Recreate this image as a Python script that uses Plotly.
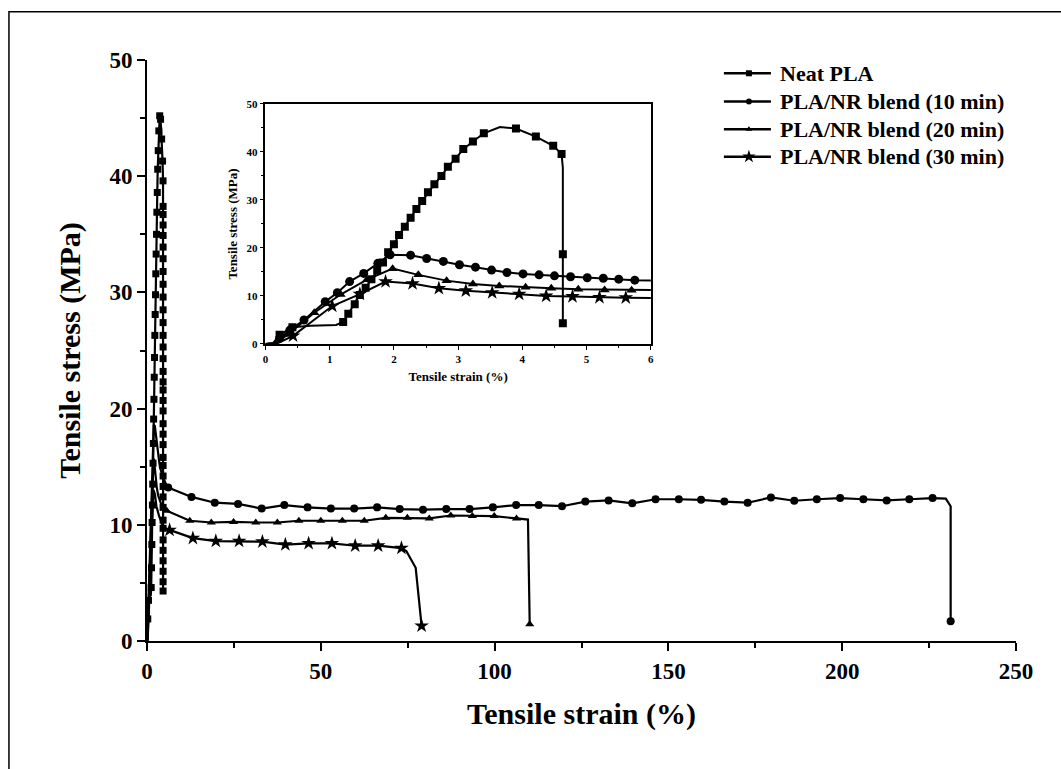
import plotly.graph_objects as go

# ---------------- data ----------------
series_names = ["Neat PLA", "PLA/NR blend (10 min)", "PLA/NR blend (20 min)", "PLA/NR blend (30 min)"]

# Neat PLA
pla_start_strain = [0.0, 0.12]
pla_start_stress = [0.0, 0.2]
pla_toe_strain = [0.22, 0.42]
pla_toe_stress = [1.9, 3.5]
pla_flat_strain = [0.70, 1.10]
pla_flat_stress = [3.8, 3.95]
pla_rise_strain = [1.21, 1.29, 1.39, 1.47, 1.56, 1.65, 1.74, 1.83, 1.91, 2.00, 2.08, 2.17,
                   2.26, 2.35, 2.44, 2.53, 2.63, 2.74, 2.84, 2.96, 3.08, 3.23, 3.40]
pla_rise_stress = [4.6, 6.3, 8.3, 10.2, 11.7, 13.5, 15.3, 17.0, 19.1, 20.8, 22.7, 24.4,
                   26.3, 28.1, 29.8, 31.6, 33.3, 35.0, 36.9, 38.6, 40.6, 42.2, 43.9]
pla_peak_strain = [3.65]
pla_peak_stress = [45.2]
pla_fall_strain = [3.90, 4.21, 4.48, 4.61]
pla_fall_stress = [44.9, 43.2, 41.3, 39.6]
pla_break_strain = 4.63
pla_drop_stress = [37.4, 36.7, 35.8, 34.9, 33.9, 32.9, 31.8, 30.7, 29.6, 28.5, 27.4, 26.3,
                   25.3, 24.3, 23.2, 22.3, 21.6, 20.7, 19.8, 18.7, 17.8, 16.9, 15.8, 15.1,
                   14.2, 13.3, 12.4, 11.5, 10.4, 9.7, 8.7, 7.8, 6.9, 6.0, 5.1, 4.3]
pla_inset_drop_marks = [18.7, 4.3]

# PLA/NR blend (10 min)
b10_start_strain = [0.0, 0.12]
b10_start_stress = [0.0, 0.1]
b10_inset_strain = [0.22, 0.38, 0.60, 0.93, 1.12, 1.31, 1.53, 1.75, 1.94, 2.26, 2.51, 2.77,
                    3.02, 3.27, 3.52, 3.76, 4.01, 4.26, 4.50, 4.75, 5.01, 5.26, 5.50, 5.75]
b10_inset_stress = [1.2, 2.9, 5.0, 8.8, 10.7, 13.0, 14.7, 16.8, 18.6, 18.5, 17.8, 17.2,
                    16.5, 16.0, 15.4, 14.9, 14.6, 14.4, 14.2, 14.0, 13.8, 13.7, 13.5, 13.3]
b10_plateau_strain = [6.1, 12.8, 19.5, 26.2, 33.0, 39.5, 46.2, 52.9, 59.6, 66.2, 72.7, 79.4,
                      86.1, 92.8, 99.5, 106.2, 112.7, 119.4, 126.1, 132.8, 139.6, 146.3, 153.0,
                      159.4, 166.1, 172.8, 179.5, 186.2, 192.7, 199.4, 206.1, 212.8, 219.3, 226.0]
b10_plateau_stress = [13.2, 12.4, 11.9, 11.8, 11.4, 11.7, 11.5, 11.4, 11.4, 11.5, 11.35, 11.3,
                      11.35, 11.35, 11.5, 11.7, 11.7, 11.6, 12.0, 12.1, 11.85, 12.2, 12.2,
                      12.15, 12.0, 11.9, 12.35, 12.07, 12.2, 12.3, 12.2, 12.1, 12.2, 12.3]
b10_tail_strain = [229.8, 231.2]
b10_tail_stress = [12.25, 11.6]
b10_break_strain = [231.2]
b10_break_stress = [1.7]

# PLA/NR blend (20 min)
b20_start_strain = [0.0, 0.15]
b20_start_stress = [0.0, 0.1]
b20_inset_strain = [0.35, 0.76, 1.17, 1.58, 1.98, 2.38, 2.82, 3.23, 3.64, 4.05, 4.45, 4.87, 5.28]
b20_inset_stress = [2.0, 6.5, 10.3, 13.4, 15.7, 14.4, 13.2, 12.5, 12.1, 11.8, 11.6, 11.4, 11.25]
b20_plateau_strain = [5.7, 12.3, 18.5, 24.9, 31.3, 37.5, 43.7, 50.0, 56.2, 62.5, 68.7, 74.9,
                      81.2, 87.4, 93.6, 99.9, 106.3]
b20_plateau_stress = [11.2, 10.35, 10.2, 10.25, 10.2, 10.2, 10.35, 10.35, 10.35, 10.35, 10.6, 10.6,
                      10.55, 10.8, 10.75, 10.75, 10.55]
b20_tail_strain = [109.6]
b20_tail_stress = [10.45]
b20_break_strain = [110.1]
b20_break_stress = [1.45]

# PLA/NR blend (30 min)
b30_start_strain = [0.0, 0.18]
b30_start_stress = [0.0, 0.1]
b30_inset_strain = [0.43, 1.04, 1.47, 1.87, 2.29, 2.70, 3.12, 3.53, 3.95, 4.37, 4.78, 5.20, 5.61]
b30_inset_stress = [1.7, 7.9, 10.4, 13.0, 12.6, 11.6, 11.1, 10.7, 10.4, 10.0, 9.9, 9.7, 9.65]
b30_plateau_strain = [6.5, 13.2, 19.8, 26.5, 33.2, 39.8, 46.5, 53.2, 59.9, 66.5, 73.2]
b30_plateau_stress = [9.55, 8.85, 8.6, 8.6, 8.55, 8.3, 8.4, 8.4, 8.2, 8.2, 8.0]
b30_tail_strain = [74.6, 77.3]
b30_tail_stress = [7.75, 6.3]
b30_break_strain = [79.0]
b30_break_stress = [1.3]

x_title = "Tensile strain (%)"
y_title = "Tensile stress (MPa)"

# ---------------- build curves ----------------
pla_x = (pla_start_strain + pla_toe_strain + pla_flat_strain + pla_rise_strain +
         pla_peak_strain + pla_fall_strain + [pla_break_strain] * len(pla_drop_stress))
pla_y = (pla_start_stress + pla_toe_stress + pla_flat_stress + pla_rise_stress +
         pla_peak_stress + pla_fall_stress + pla_drop_stress)
pla_inset_mx = pla_toe_strain + pla_rise_strain + pla_fall_strain + [pla_break_strain] * len(pla_inset_drop_marks)
pla_inset_my = pla_toe_stress + pla_rise_stress + pla_fall_stress + pla_inset_drop_marks
pla_main_mx = pla_toe_strain + pla_rise_strain + pla_peak_strain + pla_fall_strain + [pla_break_strain] * len(pla_drop_stress)
pla_main_my = pla_toe_stress + pla_rise_stress + pla_peak_stress + pla_fall_stress + pla_drop_stress


def blend(start_x, start_y, ins_x, ins_y, pl_x, pl_y, tl_x, tl_y, br_x, br_y):
    cx = start_x + ins_x + pl_x + tl_x + br_x
    cy = start_y + ins_y + pl_y + tl_y + br_y
    return dict(cx=cx, cy=cy, imx=ins_x + pl_x, imy=ins_y + pl_y,
                mmx=pl_x + br_x, mmy=pl_y + br_y)


b10 = blend(b10_start_strain, b10_start_stress, b10_inset_strain, b10_inset_stress,
            b10_plateau_strain, b10_plateau_stress, b10_tail_strain, b10_tail_stress,
            b10_break_strain, b10_break_stress)
b20 = blend(b20_start_strain, b20_start_stress, b20_inset_strain, b20_inset_stress,
            b20_plateau_strain, b20_plateau_stress, b20_tail_strain, b20_tail_stress,
            b20_break_strain, b20_break_stress)
b30 = blend(b30_start_strain, b30_start_stress, b30_inset_strain, b30_inset_stress,
            b30_plateau_strain, b30_plateau_stress, b30_tail_strain, b30_tail_stress,
            b30_break_strain, b30_break_stress)

series = [
    dict(name=series_names[0], cx=pla_x, cy=pla_y, imx=pla_inset_mx, imy=pla_inset_my,
         mmx=pla_main_mx, mmy=pla_main_my, sym="square", ms=7, ims=8, ls=6),
    dict(name=series_names[1], **b10, sym="circle", ms=8, ims=9, ls=6),
    dict(name=series_names[2], **b20, sym="triangle-up", ms=8, ims=9, ls=6),
    dict(name=series_names[3], **b30, sym="star", ms=11, ims=11, ls=10),
]

FONT = "Liberation Serif"
bold = dict(family=FONT, color="black", weight="bold")

# plot-area geometry (pixels) used to place the hand-drawn legend
PL, PR, PT, PB = 147.3, 1016.0, 60.0, 641.0
def px_x(p):
    return (p - PL) / (PR - PL)
def px_y(p):
    return (PB - p) / (PB - PT)

legend_rows_px = [73.3, 101.5, 129.3, 156.7]
legend_line_px = (724, 771)
legend_mark_px = 749
legend_text_px = 778

fig = go.Figure()

for s in series:
    fig.add_trace(go.Scatter(x=s["cx"], y=s["cy"], mode="lines", line=dict(color="black", width=2.2),
                             showlegend=False, hoverinfo="skip", xaxis="x", yaxis="y"))
    fig.add_trace(go.Scatter(x=s["mmx"], y=s["mmy"], mode="markers", name=s["name"],
                             marker=dict(symbol=s["sym"], size=s["ms"], color="black"),
                             showlegend=False, xaxis="x", yaxis="y"))
    fig.add_trace(go.Scatter(x=s["cx"], y=s["cy"], mode="lines", line=dict(color="black", width=2),
                             showlegend=False, hoverinfo="skip", xaxis="x2", yaxis="y2"))
    fig.add_trace(go.Scatter(x=s["imx"], y=s["imy"], mode="markers",
                             marker=dict(symbol=s["sym"], size=s["ims"], color="black"),
                             showlegend=False, xaxis="x2", yaxis="y2"))

# legend drawn by hand (line sample + marker + text)
shapes = [dict(type="rect", xref="paper", yref="paper", x0=px_x(9.3), x1=1.2, y0=-0.3, y1=px_y(11.7),
               line=dict(color="black", width=1.5), fillcolor="rgba(0,0,0,0)", layer="below")]
annotations = []
for s, ry in zip(series, legend_rows_px):
    shapes.append(dict(type="line", xref="paper", yref="paper",
                       x0=px_x(legend_line_px[0]), x1=px_x(legend_line_px[1]),
                       y0=px_y(ry), y1=px_y(ry), line=dict(color="black", width=2.5)))
    fig.add_trace(go.Scatter(x=[px_x(legend_mark_px)], y=[px_y(ry)], mode="markers",
                             marker=dict(symbol=s["sym"], size=s["ls"], color="black"),
                             showlegend=False, hoverinfo="skip", cliponaxis=False,
                             xaxis="x3", yaxis="y3"))
    annotations.append(dict(xref="paper", yref="paper", x=px_x(legend_text_px), y=px_y(ry),
                            xanchor="left", yanchor="middle", showarrow=False,
                            text=s["name"], font=dict(size=22, **bold)))

fig.update_layout(
    width=1061, height=769,
    margin=dict(l=147, r=45, t=60, b=128, autoexpand=False),
    paper_bgcolor="white", plot_bgcolor="rgba(0,0,0,0)",
    font=dict(family=FONT, color="black"),
    showlegend=False,
    xaxis=dict(range=[0, 250], dtick=50, tick0=0, showline=True, linecolor="black", linewidth=2,
               ticks="outside", ticklen=8, tickwidth=2, tickcolor="black",
               minor=dict(dtick=25, ticks="outside", ticklen=5, tickwidth=2, tickcolor="black"),
               showgrid=False, zeroline=False, tickfont=dict(size=23, **bold),
               title=dict(text=x_title, font=dict(size=30, **bold), standoff=20)),
    yaxis=dict(range=[0, 50], dtick=10, tick0=0, showline=True, linecolor="black", linewidth=2,
               ticks="outside", ticklen=8, tickwidth=2, tickcolor="black",
               minor=dict(dtick=5, ticks="outside", ticklen=5, tickwidth=2, tickcolor="black"),
               showgrid=False, zeroline=False, tickfont=dict(size=23, **bold),
               title=dict(text=y_title, font=dict(size=30, **bold), standoff=20)),
    xaxis2=dict(domain=[0.1363, 0.5798], anchor="y2", range=[0, 6], dtick=1, tick0=0,
                showline=True, mirror=True, linecolor="black", linewidth=1.5,
                ticks="outside", ticklen=4, tickwidth=1.2, tickcolor="black",
                minor=dict(dtick=0.5, ticks="outside", ticklen=2.5, tickwidth=1, tickcolor="black"),
                showgrid=False, zeroline=False, tickfont=dict(size=11, **bold),
                title=dict(text=x_title, font=dict(size=13, **bold), standoff=8)),
    yaxis2=dict(domain=[0.5112, 0.9243], anchor="x2", range=[0, 50], dtick=10, tick0=0,
                showline=True, mirror=True, linecolor="black", linewidth=1.5,
                ticks="outside", ticklen=4, tickwidth=1.2, tickcolor="black",
                minor=dict(dtick=5, ticks="outside", ticklen=2.5, tickwidth=1, tickcolor="black"),
                showgrid=False, zeroline=False, tickfont=dict(size=11, **bold),
                title=dict(text=y_title, font=dict(size=13, **bold), standoff=6)),
    xaxis3=dict(domain=[0, 1], anchor="y3", range=[0, 1], visible=False, overlaying="x"),
    yaxis3=dict(domain=[0, 1], anchor="x3", range=[0, 1], visible=False, overlaying="y"),
    shapes=shapes,
    annotations=annotations,
)

fig.write_html("out.html")
